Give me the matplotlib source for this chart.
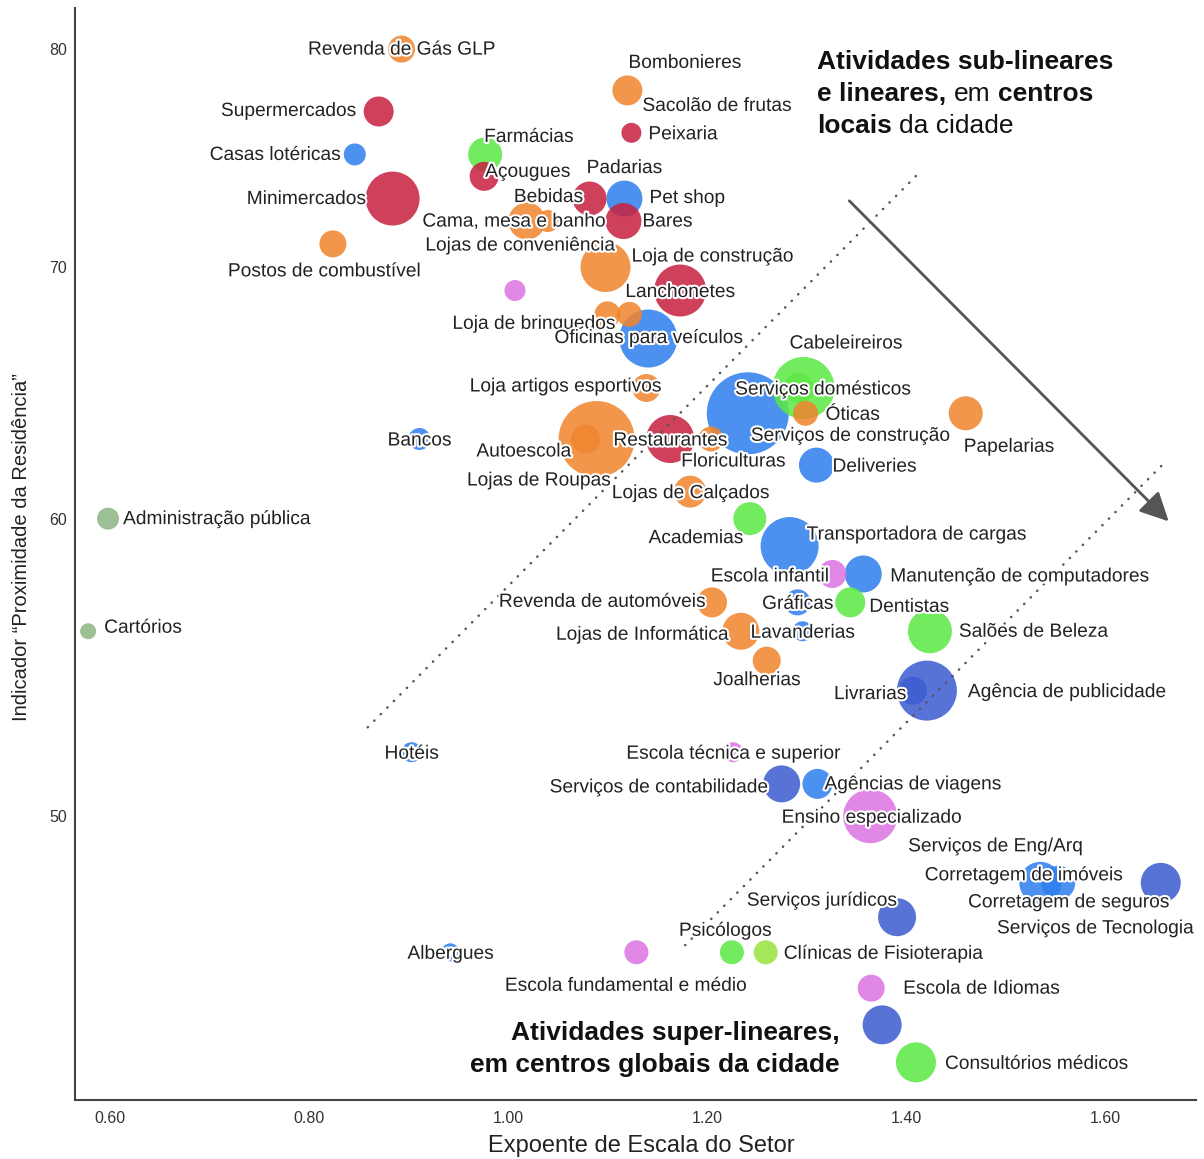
import matplotlib
matplotlib.use("Agg")
import matplotlib.pyplot as plt
import matplotlib.patheffects as pe
import pandas as pd
from matplotlib.ticker import FixedLocator, FixedFormatter, NullLocator

plt.rcParams['font.family'] = ['Liberation Sans', 'DejaVu Sans']

# ---------------------------------------------------------------- dados
setores = [
    "Revenda de Gás GLP", "Bombonieres", "Sacolão de frutas", "Supermercados",
    "Peixaria", "Casas lotéricas", "Farmácias", "Açougues", "Padarias",
    "Bebidas", "Minimercados", "Pet shop", "Bares", "Cama, mesa e banho",
    "Lojas de conveniência", "Postos de combustível", "Loja de construção",
    "Lanchonetes", "", "Loja de brinquedos", "", "Oficinas para veículos",
    "Cabeleireiros", "Serviços domésticos", "Óticas", "Serviços de construção",
    "Loja artigos esportivos", "Papelarias", "Bancos", "Lojas de Roupas",
    "Autoescola", "Restaurantes", "Floriculturas", "Deliveries",
    "Lojas de Calçados", "Administração pública", "Academias",
    "Transportadora de cargas", "Escola infantil", "Manutenção de computadores",
    "Revenda de automóveis", "Gráficas", "Dentistas", "Cartórios",
    "Salões de Beleza", "Lojas de Informática", "Lavanderias", "Joalherias",
    "Livrarias", "Agência de publicidade", "Hotéis", "Escola técnica e superior",
    "Serviços de contabilidade", "Agências de viagens", "Ensino especializado",
    "Serviços de Eng/Arq", "Corretagem de imóveis", "Corretagem de seguros",
    "Serviços de Tecnologia", "Serviços jurídicos", "Psicólogos",
    "Clínicas de Fisioterapia", "Escola fundamental e médio", "Albergues",
    "Escola de Idiomas", "Consultórios médicos",
]

expoente = [
    0.893, 1.120, 1.120, 0.870,
    1.124, 0.846, 0.977, 0.976, 1.082,
    1.082, 0.884, 1.117, 1.116, 1.019,
    1.040, 0.824, 1.098,
    1.173, 1.007, 1.100, 1.122, 1.141,
    1.297, 1.292, 1.299, 1.241,
    1.139, 1.460, 0.911, 1.089,
    1.078, 1.163, 1.204, 1.310,
    1.183, 0.598, 1.243,
    1.283, 1.326, 1.357,
    1.205, 1.291, 1.344, 0.578,
    1.424, 1.234, 1.296, 1.260,
    1.407, 1.421, 0.903, 1.226,
    1.275, 1.311, 1.364,
    1.376, 1.535, 1.553,
    1.656, 1.391, 1.225,
    1.259, 1.129, 0.942,
    1.365, 1.410,
]

proximidade = [
    80, 78, 78, 77,
    76, 75, 75, 74, 73,
    73, 73, 73, 72, 72,
    72, 71, 70,
    69, 69, 68, 68, 67,
    65, 65, 64, 64,
    65, 64, 63, 63,
    63, 63, 63, 62,
    61, 60, 60,
    59, 58, 58,
    57, 57, 57, 56,
    56, 56, 56, 55,
    54, 54, 52, 52,
    51, 51, 50,
    44, 48, 48,
    48, 47, 46,
    46, 46, 46,
    45, 43,
]

porte = [
    13.5, 15, 15, 15,
    10, 11, 17, 14.5, 17,
    17, 27, 18, 18, 18.5,
    11, 13.5, 25,
    26, 10.5, 13, 12.5, 29,
    31, 15, 12.5, 41,
    14, 17, 11, 38,
    14.5, 24, 12.5, 17.5,
    16, 11, 16.5,
    29, 14, 18.5,
    15, 13, 15, 8,
    22, 18.5, 10, 14,
    14, 30, 10, 10,
    18.5, 15, 27,
    19.5, 21, 17,
    20, 19, 12,
    12, 12, 9,
    13.5, 20,
]

grupo = [
    "Comércio", "Comércio", "Comércio", "Alimentação",
    "Alimentação", "Serviços", "Saúde", "Alimentação", "Alimentação",
    "Alimentação", "Alimentação", "Serviços", "Alimentação", "Comércio",
    "Comércio", "Comércio", "Comércio",
    "Alimentação", "Educação", "Comércio", "Comércio", "Serviços",
    "Saúde", "Saúde", "Comércio", "Serviços",
    "Comércio", "Comércio", "Serviços", "Comércio",
    "Comércio", "Alimentação", "Comércio", "Serviços",
    "Comércio", "Público", "Saúde",
    "Serviços", "Educação", "Serviços",
    "Comércio", "Serviços", "Saúde", "Público",
    "Saúde", "Comércio", "Serviços", "Comércio",
    "Profissionais", "Profissionais", "Serviços", "Educação",
    "Profissionais", "Serviços", "Educação",
    "Profissionais", "Serviços", "Serviços",
    "Profissionais", "Profissionais", "Saúde",
    "Terapias", "Educação", "Serviços",
    "Educação", "Saúde",
]

x_ticks = [0.60, 0.80, 1.00, 1.20, 1.40, 1.60]
y_ticks = [50, 60, 70, 80]

# ---------------------------------------------------------------- estilo
cores = {
    "Alimentação": "#C7213F",
    "Comércio": "#F0852E",
    "Serviços": "#2E7FED",
    "Saúde": "#5CE845",
    "Educação": "#DC73E2",
    "Profissionais": "#3D5CD0",
    "Público": "#8CB585",
    "Terapias": "#98E43F",
}

# deslocamento do rótulo em pixels (dx, dy para baixo) e alinhamento
rotulo_pos = {
    "Revenda de Gás GLP": (0, -1, "center"),
    "Bombonieres": (1, -29, "left"),
    "Sacolão de frutas": (15, 14, "left"),
    "Supermercados": (-23, -2, "right"),
    "Peixaria": (17, 0, "left"),
    "Casas lotéricas": (-15, -1, "right"),
    "Farmácias": (-1, -19, "left"),
    "Açougues": (1, -6, "left"),
    "Padarias": (-3, -32, "left"),
    "Bebidas": (-7, -3, "right"),
    "Minimercados": (-27, -1, "right"),
    "Pet shop": (25, -2, "left"),
    "Bares": (19, -1, "left"),
    "Cama, mesa e banho": (-13, -1, "center"),
    "Lojas de conveniência": (-28, 23, "center"),
    "Postos de combustível": (-9, 26, "center"),
    "Loja de construção": (26, -12, "left"),
    "Lanchonetes": (0, 0, "center"),
    "Loja de brinquedos": (7, 8, "right"),
    "Oficinas para veículos": (0, -2, "center"),
    "Cabeleireiros": (-14, -46, "left"),
    "Serviços domésticos": (24, 0, "center"),
    "Óticas": (20, 0, "left"),
    "Serviços de construção": (3, 21, "left"),
    "Loja artigos esportivos": (14, -3, "right"),
    "Papelarias": (-2, 32, "left"),
    "Bancos": (0, 0, "center"),
    "Lojas de Roupas": (-58, 40, "center"),
    "Autoescola": (-15, 11, "right"),
    "Restaurantes": (0, 0, "center"),
    "Floriculturas": (22, 21, "center"),
    "Deliveries": (16, 0, "left"),
    "Lojas de Calçados": (0, 0, "center"),
    "Administração pública": (15, -1, "left"),
    "Academias": (-7, 18, "right"),
    "Transportadora de cargas": (17, -13, "left"),
    "Escola infantil": (-4, 1, "right"),
    "Manutenção de computadores": (27, 1, "left"),
    "Revenda de automóveis": (-7, -2, "right"),
    "Gráficas": (0, 0, "center"),
    "Dentistas": (19, 3, "left"),
    "Cartórios": (16, -5, "left"),
    "Salões de Beleza": (29, -1, "left"),
    "Lojas de Informática": (-13, 2, "right"),
    "Lavanderias": (0, 0, "center"),
    "Joalherias": (-10, 18, "center"),
    "Livrarias": (-7, 2, "right"),
    "Agência de publicidade": (41, 0, "left"),
    "Hotéis": (0, 0, "center"),
    "Escola técnica e superior": (0, 0, "center"),
    "Serviços de contabilidade": (-15, 2, "right"),
    "Agências de viagens": (7, -1, "left"),
    "Ensino especializado": (1, 0, "center"),
    "Serviços de Eng/Arq": (26, -180, "left"),
    "Corretagem de imóveis": (-17, -9, "center"),
    "Corretagem de seguros": (10, 18, "center"),
    "Serviços de Tecnologia": (32, 44, "right"),
    "Serviços jurídicos": (-1, -18, "right"),
    "Psicólogos": (-7, -23, "center"),
    "Clínicas de Fisioterapia": (18, 0, "left"),
    "Escola fundamental e médio": (-11, 32, "center"),
    "Albergues": (0, 0, "center"),
    "Escola de Idiomas": (32, -1, "left"),
    "Consultórios médicos": (29, 0, "left"),
}
# centro visual das letras fica um pouco abaixo do centro da caixa do texto
ajuste_vertical = 2

df = pd.DataFrame({"setor": setores, "expoente": expoente,
                   "proximidade": proximidade, "porte": porte, "grupo": grupo})

fig = plt.figure(figsize=(12.04, 11.59), dpi=100)
ax = fig.add_axes([0.0623, 0.0509, 0.9311, 0.9422])
ax.set_yscale("log")
ax.set_xlim(0.5648, 1.6915)
ax.set_ylim(42.02, 82.04)

# bolhas: maiores primeiro; setores com mesma posição desenhados uma vez
bolhas = (df.drop_duplicates(subset=["expoente", "proximidade", "porte"])
            .sort_values("porte", ascending=False))
ax.scatter(bolhas["expoente"], bolhas["proximidade"],
           s=(1.44 * bolhas["porte"]) ** 2,
           c=[cores[g] for g in bolhas["grupo"]],
           alpha=0.86, edgecolors="none", zorder=2)

# linhas pontilhadas de referência
ponto = dict(linestyle=(0, (0.1, 3.6)), lw=1.8, color="#555555",
             dash_capstyle="round", zorder=3)
ax.plot([0.859, 1.414], [52.8, 74.2], **ponto)
ax.plot([1.178, 1.660], [46.2, 62.1], **ponto)

# seta diagonal
ax.annotate("", xy=(1.664, 59.9), xytext=(1.343, 72.9),
            arrowprops=dict(arrowstyle="-|>,head_length=0.7,head_width=0.35",
                            color="#555555", lw=2, shrinkA=0, shrinkB=0,
                            mutation_scale=25), zorder=3)

# rótulos dos setores
halo = [pe.withStroke(linewidth=3, foreground="white")]
for _, r in df.iterrows():
    if not r["setor"]:
        continue
    dx, dy, ha = rotulo_pos[r["setor"]]
    ax.annotate(r["setor"], xy=(r["expoente"], r["proximidade"]),
                xytext=(dx, -(dy + ajuste_vertical)), textcoords="offset pixels",
                ha=ha, va="center", fontsize=13.8, color="#222222",
                path_effects=halo, zorder=5)

# textos explicativos
kb = dict(fontsize=19, fontweight="bold", color="#111111", zorder=6)
kn = dict(fontsize=19, color="#111111", zorder=6)
esp = 5.3
ax.text(0.662, 0.9506, "Atividades sub-lineares", transform=ax.transAxes,
        ha="left", va="center", **kb)
t2 = ax.text(0.662, 0.9213, "e lineares,", transform=ax.transAxes,
             ha="left", va="center", **kb)
t3 = ax.annotate("em", xy=(1, 0), xycoords=t2, xytext=(esp, 0),
                 textcoords="offset points", ha="left", va="bottom", **kn)
ax.annotate("centros", xy=(1, 0), xycoords=t3, xytext=(esp, 0),
            textcoords="offset points", ha="left", va="bottom", **kb)
t5 = ax.text(0.662, 0.8920, "locais", transform=ax.transAxes,
             ha="left", va="center", **kb)
ax.annotate("da cidade", xy=(1, 0), xycoords=t5, xytext=(esp, 0),
            textcoords="offset points", ha="left", va="bottom", **kn)

ax.text(0.6824, 0.0614, "Atividades super-lineares,", transform=ax.transAxes,
        ha="right", va="center", **kb)
ax.text(0.6824, 0.0321, "em centros globais da cidade", transform=ax.transAxes,
        ha="right", va="center", **kb)

# eixos
ax.xaxis.set_major_locator(FixedLocator(x_ticks))
ax.xaxis.set_major_formatter(FixedFormatter([f"{v:.2f}" for v in x_ticks]))
ax.yaxis.set_major_locator(FixedLocator(y_ticks))
ax.yaxis.set_major_formatter(FixedFormatter([str(v) for v in y_ticks]))
ax.yaxis.set_minor_locator(NullLocator())
ax.xaxis.set_minor_locator(NullLocator())
ax.tick_params(axis="x", length=0, pad=8, labelsize=11.5, labelcolor="#333333")
ax.tick_params(axis="y", length=0, pad=6, labelsize=11.5, labelcolor="#333333")
for s in ("top", "right"):
    ax.spines[s].set_visible(False)
for s in ("left", "bottom"):
    ax.spines[s].set_color("#444444")
    ax.spines[s].set_linewidth(1.5)

fig.text(641.5 / 1204, 1 - 1146 / 1159, "Expoente de Escala do Setor",
         ha="center", va="center", fontsize=17, color="#222222")
fig.text(22 / 1204, 1 - 547 / 1159, "Indicador “Proximidade da Residência”",
         ha="center", va="center", rotation=90, fontsize=14.5, color="#222222")

fig.savefig("out.png", dpi=100)
